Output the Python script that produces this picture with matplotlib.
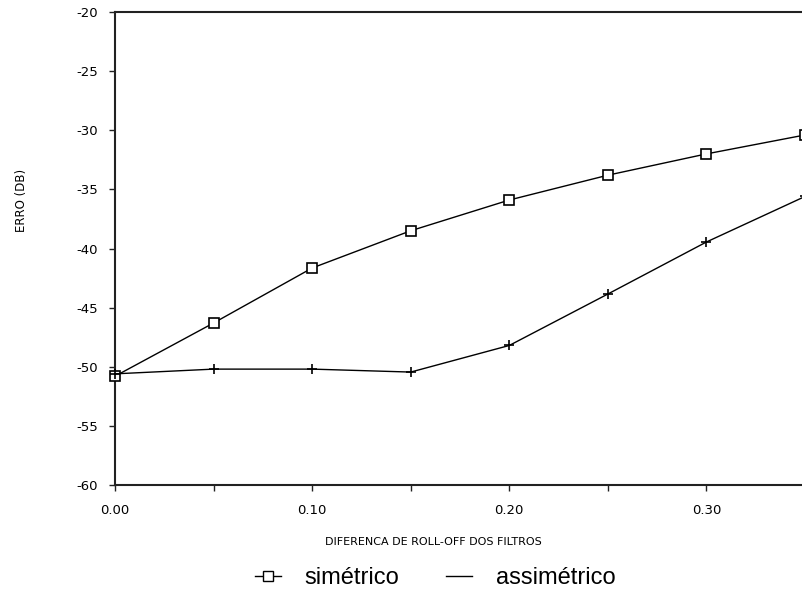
import matplotlib
matplotlib.use("Agg")
import matplotlib.pyplot as plt
from matplotlib.lines import Line2D

# diferenca de roll-off dos filtros
roll_off = [0.00, 0.05, 0.10, 0.15, 0.20, 0.25, 0.30, 0.35]
erro_simetrico = [-50.8, -46.3, -41.65, -38.5, -35.9, -33.8, -32.0, -30.4]
erro_assimetrico = [-50.6, -50.2, -50.2, -50.45, -48.2, -43.85, -39.45, -35.6]

x_ticks = [0.00, 0.10, 0.20, 0.30]
x_labels = ["0.00", "0.10", "0.20", "0.30"]
x_minor = [0.05, 0.15, 0.25]
y_ticks = [-60, -55, -50, -45, -40, -35, -30, -25, -20]
y_labels = ["-60", "-55", "-50", "-45", "-40", "-35", "-30", "-25", "-20"]

W, H = 803, 594
fig = plt.figure(figsize=(W / 100, H / 100), dpi=100)
ax = fig.add_axes([115 / W, (H - 485) / H, 690 / W, 473 / H])

ax.plot(roll_off, erro_simetrico, color="black", lw=1.0,
        marker="s", markersize=6.5, markerfacecolor="white", markeredgecolor="black",
        markeredgewidth=1.2, clip_on=False, zorder=3)
ax.plot(roll_off, erro_assimetrico, color="black", lw=1.0,
        marker="+", markersize=7, markeredgewidth=1.2, clip_on=False, zorder=3)

ax.set_xlim(0, 0.35)
ax.set_ylim(-60, -20)
ax.set_xticks(x_ticks)
ax.set_xticklabels(x_labels)
ax.set_xticks(x_minor, minor=True)
ax.set_yticks(y_ticks)
ax.set_yticklabels(y_labels)
ax.tick_params(axis="both", which="both", direction="out", length=4, width=1.0,
               labelsize=9.5, pad=8, color="#222222")
ax.tick_params(axis="x", pad=10)
for s in ax.spines.values():
    s.set_linewidth(1.5)
    s.set_color("#222222")
ax.spines["right"].set_visible(False)

fig.text(22 / W, 1 - 200 / H, "ERRO (DB)", rotation=90, fontsize=8.5,
         ha="center", va="center")
fig.text(433 / W, 1 - 542 / H, "DIFERENCA DE ROLL-OFF DOS FILTROS", fontsize=8,
         ha="center", va="center")

handles = [
    Line2D([], [], color="black", lw=1.0, marker="s", markersize=6.5,
           markerfacecolor="white", markeredgecolor="black"),
    Line2D([], [], color="black", lw=1.0),
]
leg = fig.legend(handles, ["simétrico", "assimétrico"], loc="center",
                 bbox_to_anchor=(435 / W, 1 - 578 / H), ncol=2, frameon=False,
                 handlelength=1.1, handletextpad=1.0, columnspacing=2.0,
                 prop={"family": "Liberation Sans", "size": 17})

fig.savefig("out.png", dpi=100)
